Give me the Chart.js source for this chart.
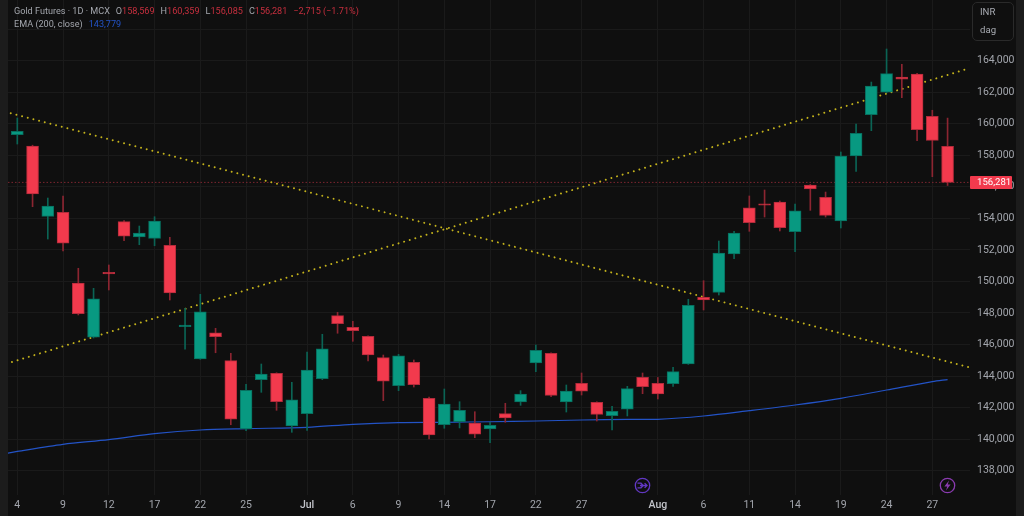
<!DOCTYPE html>
<html>
<head>
<meta charset="utf-8">
<title>Gold Futures</title>
<script src="https://cdn.jsdelivr.net/npm/chart.js@4/dist/chart.umd.min.js"></script>
<style>
  html, body { margin: 0; padding: 0; width: 1024px; height: 516px; overflow: hidden; background: #0f0f0f; }
  body { position: relative; font-family: Roboto, sans-serif; }
  #chart { position: absolute; left: 0; top: 0; }
  .strip { position: absolute; top: 0; width: 8px; height: 516px; background: #1c1c1c; }
  .legend { position: absolute; left: 14px; font-size: 9.1px; line-height: 12px; color: #a3a6ad; white-space: nowrap; }
  .legend b { font-weight: 400; color: #c62f3e; }
  .legend i { font-style: normal; margin-left: 6px; }
  .unit { position: absolute; left: 972px; top: 2px; width: 40px; height: 37px; border: 1px solid #2a2a2a; border-radius: 5px; background: #0f0f0f; color: #a9acb3; font-size: 9.6px; }
  .unit span { position: absolute; left: 7px; }
  .icon { position: absolute; top: 477px; }
  #priceTag { position: absolute; left: 970px; width: 35px; height: 13px; padding-left: 7px; line-height: 13px; background: #f23a4d; border-radius: 1px; color: #fff; font-size: 9.6px; text-rendering: geometricPrecision; }
</style>
</head>
<body>
<div class="strip" style="left:0"></div>
<div class="strip" style="left:1016px"></div>
<canvas id="chart" width="1024" height="516"></canvas>
<div class="legend" style="top:5px">Gold Futures · 1D · MCX<i>O</i><b>158,569</b><i>H</i><b>160,359</b><i>L</i><b>156,085</b><i>C</i><b>156,281</b><b style="margin-left:6px">−2,715 (−1.71%)</b></div>
<div class="legend" style="top:18px">EMA (200, close)<span style="margin-left:6px;color:#2353c6">143,779</span></div>
<div class="unit"><span style="top:3px">INR</span><span style="top:21px">dag</span></div>
<div id="priceTag"></div>
<svg class="icon" style="left:634px" width="17" height="17" viewBox="0 0 17 17" fill="none" stroke="#6238c4" stroke-width="1.3">
  <circle cx="8.5" cy="8.5" r="7.2"/><path d="M3.5 6.2 L7 6.2 L9.2 8.5 L7 10.8 L3.5 10.8 M6 8.5 H13 M10.6 6.1 L13 8.5 L10.6 10.9"/>
</svg>
<svg class="icon" style="left:939px" width="17" height="17" viewBox="0 0 17 17" fill="none" stroke="#8a3bb0" stroke-width="1.3">
  <circle cx="8.5" cy="8.5" r="7.2"/><path d="M10 3.6 L5.4 9.4 H8.2 L7 13.4 L11.6 7.6 H8.8 Z" fill="#8a3bb0" stroke="none"/>
</svg>
<script>
// Candles, one entry per trading day
const opens = [159305,158590,154130,154385,149900,146460,150580,153790,152820,152735,152295,147130,145085,146750,144975,140645,143770,144175,140835,141615,143835,147830,147095,146520,145165,143390,144875,142590,140915,141105,141025,140645,141615,142355,144830,145445,142355,143540,142335,141490,141895,143920,143540,143515,144765,148995,149310,151740,154675,154930,155040,153155,156115,155335,153835,157955,160575,161995,162965,163155,160470,158569];
const highs = [160365,158640,155290,155420,150835,149565,151045,153855,153515,154105,152800,148300,149185,147030,145445,143480,144765,144210,143605,145525,146650,148045,147475,146550,145335,145380,145020,142675,143180,142375,141740,141070,142275,143075,145970,145480,143435,144195,142370,142085,143350,144195,143910,144555,148870,150050,152565,153180,155420,155800,155100,154910,156150,155670,158210,159985,162645,164740,163770,163190,160855,160359];
const lows = [158715,154740,152690,151930,147875,146415,149460,152585,152330,152265,148825,145700,145060,145480,140915,140535,142970,141830,140435,140560,143770,146715,146205,144955,142440,143075,143305,140010,140690,140710,140095,139775,141070,142145,144280,142690,141720,142800,141150,140580,141470,142885,142545,143340,144740,148190,149140,151445,153180,154085,153200,151885,154510,154085,153390,156985,159560,161960,161650,158925,156645,156085];
const closes = [159520,155545,154785,152420,147955,148905,150475,152865,153075,153835,149270,147240,148080,146495,141260,143100,144130,142375,142500,144385,145735,147320,146875,145335,143670,145290,143455,140265,142230,141830,140310,140880,141340,142865,145635,142780,143055,143035,141575,141765,143200,143325,142865,144280,148490,148825,151805,153075,153725,154830,153410,154485,155865,154195,157955,159395,162395,163175,162820,159625,158950,156281];

// Time axis
const timeTickAt = [0,3,6,9,12,15,19,22,25,28,31,34,37,42,45,48,51,54,57,60];
const timeTickLabels = ["4","9","12","17","22","25","Jul","6","9","14","17","22","27","Aug","6","11","14","19","24","27"];

// Price axis
const priceTicks = [138000,140000,142000,144000,146000,148000,150000,152000,154000,156000,158000,160000,162000,164000,166000];
const unlabelledTick = 166000;

// EMA 200, read at the tick marks
const emaAt = [-0.63,0,3,6,9,12,15,19,22,25,28,31,34,37,40,42,45,48,51,54,57,60,61];
const emaValues = [139105,139220,139675,139965,140345,140580,140665,140750,140940,141045,141070,141105,141150,141215,141260,141260,141470,141805,142165,142590,143115,143645,143779];

// Drawn trend lines
const fallingLineAt = [-0.43,62.43];
const fallingLineValues = [160663,144557];
const risingLineAt = [-0.35,62.2];
const risingLineValues = [144893,163453];

const UP = "#089981", UP_EDGE = "#076f5f", UP_WICK = "#0b6455";
const DOWN = "#f23a4d", DOWN_EDGE = "#b32b3b", DOWN_WICK = "#8c2531";
const lastClose = closes[closes.length - 1];

function isUp(i) { return closes[i] >= opens[i]; }
function pairs(xs, ys) { return xs.map((x, i) => ({ x: x, y: ys[i] })); }
function isMonthTick(ctx) {
  return !!ctx.tick && isNaN(timeTickLabels[timeTickAt.indexOf(ctx.tick.value)]);
}

const days = opens.map((_, i) => i);

const chart = new Chart(document.getElementById("chart"), {
  type: "bar",
  data: {
    datasets: [
      {
        label: "Body",
        data: days.map((i) => ({ x: i, y: [opens[i], closes[i]] })),
        backgroundColor: days.map((i) => (isUp(i) ? UP : DOWN)),
        borderColor: days.map((i) => (isUp(i) ? UP_EDGE : DOWN_EDGE)),
        borderWidth: 1,
        borderSkipped: false,
        barThickness: 12,
        grouped: false,
        order: 1,
      },
      {
        label: "Wick",
        data: days.map((i) => ({ x: i, y: [lows[i], highs[i]] })),
        backgroundColor: days.map((i) => (isUp(i) ? UP_WICK : DOWN_WICK)),
        borderWidth: 0,
        barThickness: 1,
        grouped: false,
        order: 2,
      },
      {
        type: "line",
        label: "EMA (200, close)",
        data: pairs(emaAt, emaValues),
        borderColor: "#2353c6",
        borderWidth: 1.2,
        pointRadius: 0,
        tension: 0.3,
        order: 3,
      },
      {
        type: "line",
        label: "Falling trend",
        data: pairs(fallingLineAt, fallingLineValues),
        borderColor: "#c4b31c",
        borderWidth: 2,
        borderCapStyle: "round",
        borderDash: [0.01, 5.85],
        pointRadius: 0,
        order: 4,
      },
      {
        type: "line",
        label: "Rising trend",
        data: pairs(risingLineAt, risingLineValues),
        borderColor: "#c4b31c",
        borderWidth: 2,
        borderCapStyle: "round",
        borderDash: [0.01, 5.85],
        pointRadius: 0,
        order: 4,
      },
      {
        type: "line",
        label: "Last price",
        data: pairs([-0.61, 62.47], [lastClose, lastClose]),
        borderColor: "#7c2530",
        borderWidth: 1,
        borderDash: [1.5, 2],
        pointRadius: 0,
        order: 5,
      },
    ],
  },
  options: {
    responsive: false,
    animation: false,
    events: [],
    layout: { padding: { left: 8, right: 0, top: 0, bottom: 0 } },
    plugins: { legend: { display: false }, tooltip: { enabled: false } },
    scales: {
      x: {
        type: "linear",
        offset: false,
        min: -0.61,
        max: 62.47,
        border: { display: false },
        grid: { offset: false, color: "#1a1a1a", drawTicks: false },
        afterBuildTicks(scale) {
          scale.ticks = timeTickAt.map((v) => ({ value: v }));
        },
        afterFit(scale) {
          scale.height = 21;
          scale.paddingLeft = 0;
          scale.paddingRight = 0;
        },
        ticks: {
          autoSkip: false,
          maxRotation: 0,
          padding: 4,
          color: (ctx) => (isMonthTick(ctx) ? "#c2c4ca" : "#a3a6ad"),
          font: (ctx) => ({
            family: "Roboto, sans-serif",
            size: 10.5,
            weight: isMonthTick(ctx) ? "500" : "400",
          }),
          callback: (v) => timeTickLabels[timeTickAt.indexOf(v)],
        },
      },
      y: {
        position: "right",
        min: 136459,
        max: 167847,
        border: { display: false },
        grid: { color: "#1a1a1a", drawTicks: false },
        afterBuildTicks(scale) {
          scale.ticks = priceTicks.map((v) => ({ value: v }));
        },
        afterFit(scale) {
          scale.width = 54;
          scale.paddingTop = 0;
          scale.paddingBottom = 0;
        },
        ticks: {
          autoSkip: false,
          padding: 7,
          color: "#a3a6ad",
          font: { family: "Roboto, sans-serif", size: 10.5 },
          callback: (v) => (v === unlabelledTick ? "" : v.toLocaleString("en-US")),
        },
      },
    },
  },
});

// Price tag on the axis
const priceTag = document.getElementById("priceTag");
priceTag.textContent = lastClose.toLocaleString("en-US");
priceTag.style.top = chart.scales.y.getPixelForValue(lastClose) - 6.5 + "px";
</script>
</body>
</html>
